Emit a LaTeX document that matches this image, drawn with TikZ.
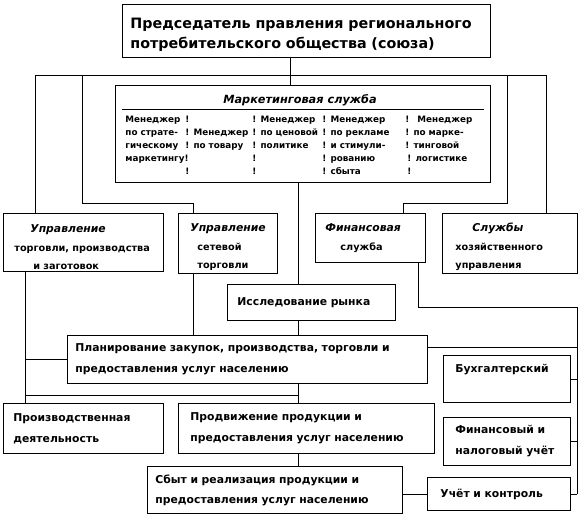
\documentclass[tikz,border=0pt]{standalone}
\usepackage{fontspec}
\setmainfont{DejaVu Sans}
\usepackage{array}

\begin{document}
\begin{tikzpicture}[x=1pt, y=-1pt, line width=0.9pt,
      blk/.style={draw, anchor=north west, align=left, inner ysep=0pt, font=\bfseries\fontsize{10.8}{21}\selectfont},
      sml/.style={font=\bfseries\fontsize{9.7}{18.5}\selectfont},
      ttl/.style={font=\bfseries\itshape\fontsize{11.3}{13}\selectfont}]
    \useasboundingbox (0,0) rectangle (582,516);
    \node[blk, minimum width=368pt, minimum height=53pt, inner xsep=8pt, text width=352pt, font=\bfseries\fontsize{14.3}{20}\selectfont] (chair) at (122,4) {\rule{0pt}{19pt}Председатель правления регионального\\потребительского общества (союза)};
    \node[draw, anchor=north west, minimum width=375pt, minimum height=97pt, inner sep=0pt] (mkt) at (115,85) {};
    \node[ttl] (mkttitle) at (300,100) {Маркетинговая служба};
    \draw ([xshift=7pt,yshift=-24pt]mkt.north west) -- ([xshift=-7pt,yshift=-24pt]mkt.north east);
    \node[anchor=north west, inner sep=0pt, font=\bfseries\fontsize{8.8}{12.9}\selectfont] (mgr) at (125,113) {%
      \begin{tabular}{@{}p{60pt}@{}p{67pt}@{}p{70pt}@{}p{83pt}@{}p{78pt}@{}}
      Менеджер & ! & ! Менеджер & ! Менеджер & !\hspace{8pt}Менеджер\\
      по страте- & ! Менеджер & ! по ценовой & ! по рекламе & ! по марке-\\
      гическому & ! по товару & ! политике & ! и стимули- & ! тинговой\\
      маркетингу! & & ! & ! рованию & \hspace{2pt}! логистике\\
      & ! & ! & ! сбыта & \hspace{2pt}!
      \end{tabular}};
    \node[blk, sml, minimum width=160pt, minimum height=58pt, inner xsep=11pt, text width=138pt] (upr1) at (3,213) {\rule{0pt}{18pt}\hspace*{16pt}{\fontsize{10.8}{18.5}\selectfont\itshape Управление}\\торговли, производства\\\hspace*{19pt}и заготовок};
    \node[blk, sml, minimum width=99pt, minimum height=60pt, inner xsep=12pt, text width=75pt] (uprset) at (178,213) {\rule{0pt}{16pt}{\fontsize{10.8}{18.5}\selectfont\itshape Управление}\\\hspace*{7pt}сетевой\\\hspace*{7pt}торговли};
    \node[blk, sml, minimum width=110pt, minimum height=49pt, inner xsep=10pt, text width=90pt] (finsl) at (315,213) {{\fontsize{10.8}{18.5}\selectfont\itshape Финансовая}\\\hspace*{15pt}служба};
    \node[blk, sml, minimum width=135pt, minimum height=60pt, inner xsep=13pt, text width=109pt] (hozsl) at (442,213) {\rule{0pt}{16pt}\hspace*{17pt}{\fontsize{10.8}{18.5}\selectfont\itshape Службы}\\хозяйственного\\управления};
    \node[blk, minimum width=168pt, minimum height=36pt, inner xsep=10pt, text width=148pt] (issl) at (227,284) {Исследование рынка};
    \node[blk, minimum width=360pt, minimum height=48pt, inner xsep=8pt, text width=344pt] (plan) at (67,335) {Планирование закупок, производства, торговли и\\предоставления услуг населению};
    \node[blk, minimum width=160pt, minimum height=50pt, inner xsep=10pt, text width=140pt] (proizv) at (3,403) {Производственная\\деятельность};
    \node[blk, minimum width=256pt, minimum height=50pt, inner xsep=12pt, text width=232pt] (prodv) at (178,403) {Продвижение продукции и\\предоставления услуг населению};
    \node[blk, minimum width=255pt, minimum height=47pt, inner xsep=8pt, text width=239pt, font=\bfseries\fontsize{10.8}{20}\selectfont] (sbyt) at (147,466) {Сбыт и реализация продукции и\\предоставления услуг населению};
    \node[blk, minimum width=127pt, minimum height=47pt, inner xsep=12pt, text width=103pt] (buh) at (443,355) {Бухгалтерский\\\mbox{}};
    \node[blk, minimum width=127pt, minimum height=48pt, inner xsep=12pt, text width=103pt] (finuch) at (443,417) {Финансовый и\\налоговый учёт};
    \node[blk, minimum width=143pt, minimum height=33pt, inner xsep=13pt, text width=117pt] (uch) at (427,477) {Учёт и контроль};
    \coordinate (busL) at (35,75);
    \coordinate (busR) at (546,75);
    \coordinate (jc) at (290,75);
    \coordinate (b2) at (82,75);
    \coordinate (b3) at (507,75);
    \coordinate (e2) at (193,203);
    \coordinate (e3) at (403,203);
    \coordinate (xm) at (298,0);
    \coordinate (xp) at (25,0);
    \coordinate (xq) at (418,0);
    \coordinate (e5) at (577,307);
    \coordinate (e7) at (577,347);
    \coordinate (j4) at (298,395);
    \draw (chair.south -| jc) -- (mkt.north -| jc);
    \draw (busL) -- (busR);
    \draw (busL) -- (upr1.north -| busL);
    \draw (busR) -- (hozsl.north -| busR);
    \draw (b2) |- (e2) -- (uprset.north -| e2);
    \draw (b3) |- (e3) -- (finsl.north -| e3);
    \draw (mkt.south -| xm) -- (issl.north -| xm);
    \draw (issl.south -| xm) -- (plan.north -| xm);
    \draw (uprset.south -| e2) -- (plan.north -| e2);
    \draw (upr1.south -| xp) -- (proizv.north -| xp);
    \draw (plan.west) -- (plan.west -| xp);
    \draw (j4 -| xp) -- (j4);
    \draw (plan.south -| xm) -- (prodv.north -| xm);
    \draw (prodv.south -| xm) -- (sbyt.north -| xm);
    \draw (finsl.south -| xq) |- (e5) -- (uch.east -| e5);
    \draw (e7) -- (e7 -| plan.east);
    \draw (buh.east) -- (buh.east -| e5);
    \draw (finuch.east) -- (finuch.east -| e5);
    \draw (uch.east) -- (uch.east -| e5);
    \draw (sbyt.east |- uch.west) -- (uch.west);
\end{tikzpicture}
\end{document}
